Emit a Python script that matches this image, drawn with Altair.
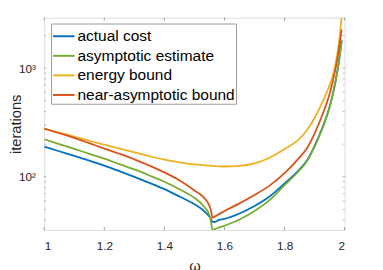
import altair as alt
import pandas as pd

# --- data ---
omega = [1.0, 1.05, 1.1, 1.15, 1.2, 1.25, 1.3, 1.35, 1.4, 1.45, 1.5, 1.53, 1.55, 1.555,
         1.56, 1.57, 1.58, 1.6, 1.65, 1.7, 1.75, 1.8, 1.85, 1.875, 1.9, 1.925, 1.95,
         1.96, 1.97, 1.98, 1.99]

actual_cost = [190, 172, 156, 141, 127, 113, 100, 88, 77, 66, 56, 49, 43, 41,
               38.5, 38.5, 40, 41, 46, 54, 66, 87, 117, 142, 193, 279, 443,
               570, 770, 1115, 1800]

asymptotic_estimate = [222, 200, 181, 163, 147, 131, 117, 103, 90, 77, 64, 54, 44, 39,
                       32.4, 33.2, 34, 35.5, 40.5, 48.5, 61, 84, 115, 140, 190, 275, 437,
                       562, 759, 1096, 1758]

energy_bound = [278, 255, 235, 215, 198, 182, 168, 155, 144, 136, 130, 128, 127, 126.5,
                126, 125.5, 125, 124.5, 126, 133, 150, 180, 225, 270, 348, 480, 700,
                840, 1100, 1650, 2920]

near_asymptotic_bound = [278, 252, 228, 204, 182, 163, 145, 127, 110, 93, 75, 65, 54, 49,
                         42, 43.5, 45, 48.5, 57, 68, 83, 108, 151, 184, 251, 367, 582,
                         750, 1000, 1445, 2260]

series_names = ["actual cost", "asymptotic estimate", "energy bound", "near-asymptotic bound"]
series_colors = ["#0072BD", "#77AC30", "#EDB120", "#D95319"]

x_ticks = [1.0, 1.2, 1.4, 1.6, 1.8, 2.0]
y_major = [100, 1000]
y_minor = [40, 50, 60, 70, 80, 90, 200, 300, 400, 500, 600, 700, 800, 900, 2000]

x_domain = [1.0, 2.0]
y_domain = [32.4, 2920]

W, H = 307, 217
FONT = "Liberation Sans"
GRID = "#9a9a9a"
TXT = "#262626"

rows = []
for name, vals in zip(series_names, [actual_cost, asymptotic_estimate, energy_bound, near_asymptotic_bound]):
    for x, y in zip(omega, vals):
        rows.append({"omega": x, "iterations": y, "series": name})
df = pd.DataFrame(rows)

xscale = alt.Scale(domain=x_domain, nice=False, zero=False)
yscale = alt.Scale(type="log", domain=y_domain, nice=False)

x_axis = alt.Axis(values=x_ticks, format=".1~f", ticks=False, tickSize=0, domain=False,
                  grid=False, labelPadding=11, labelFontSize=12, labelFont=FONT,
                  labelColor=TXT, titleFont=FONT, titleColor=TXT, titleFontSize=15,
                  titleFontWeight="normal", titleX=W / 2, titleY=41,
                  titleBaseline="alphabetic", titleAlign="center")
y_axis = alt.Axis(values=y_major, labelExpr="datum.value == 100 ? '10²' : '10³'",
                  ticks=False, tickSize=0, domain=False, grid=False, labelPadding=9,
                  labelFontSize=12, labelFont=FONT, labelColor=TXT, titleFont=FONT,
                  titleColor=TXT, titleFontSize=15, titleFontWeight="normal",
                  titleX=-24.5, titleY=H / 2, titleAngle=270, titleBaseline="alphabetic",
                  titleAlign="center")

lines = alt.Chart(df).mark_line(strokeWidth=1.8, clip=True, interpolate="monotone").encode(
    x=alt.X("omega:Q", scale=xscale, title="ω", axis=x_axis),
    y=alt.Y("iterations:Q", scale=yscale, title="iterations", axis=y_axis),
    color=alt.Color("series:N", scale=alt.Scale(domain=series_names, range=series_colors),
                    legend=alt.Legend(title=None, orient="none", legendX=7, legendY=6,
                                      symbolType="stroke", symbolSize=484, symbolStrokeWidth=2,
                                      labelFontSize=15.8, labelOffset=2, labelLimit=260,
                                      padding=1, rowPadding=-4, strokeColor=GRID,
                                      fillColor="white", labelColor="#000000",
                                      labelFont=FONT)),
)

ydf = pd.DataFrame({"iterations": y_major + y_minor,
                    "len": [3] * len(y_major) + [2] * len(y_minor)})
xdf = pd.DataFrame({"omega": x_ticks})

yt_left = alt.Chart(ydf).mark_tick(color=GRID, thickness=1, orient="horizontal").encode(
    y=alt.Y("iterations:Q", scale=yscale, title="iterations", axis=y_axis), x=alt.value(1),
    size=alt.Size("len:Q", scale=None, legend=None)
)
yt_right = alt.Chart(ydf).mark_tick(color=GRID, thickness=1, orient="horizontal").encode(
    y=alt.Y("iterations:Q", scale=yscale, title="iterations", axis=y_axis), x=alt.value(W - 1),
    size=alt.Size("len:Q", scale=None, legend=None)
)
xt_bottom = alt.Chart(xdf).mark_rule(color=GRID, strokeWidth=1).encode(
    x=alt.X("omega:Q", scale=xscale, title="ω", axis=x_axis), y=alt.value(H), y2=alt.value(H - 3)
)
xt_top = alt.Chart(xdf).mark_rule(color=GRID, strokeWidth=1).encode(
    x=alt.X("omega:Q", scale=xscale, title="ω", axis=x_axis), y=alt.value(0), y2=alt.value(3)
)

chart = alt.layer(lines, yt_left, yt_right, xt_bottom, xt_top).properties(
    width=W, height=H,
    autosize=alt.AutoSizeParams(type="none"),
    padding={"left": 37, "top": 7, "right": 31, "bottom": 38},
).configure_view(stroke=GRID, strokeWidth=1).configure(background="white")

chart.save("out.html", embed_options={"renderer": "svg", "actions": False})
